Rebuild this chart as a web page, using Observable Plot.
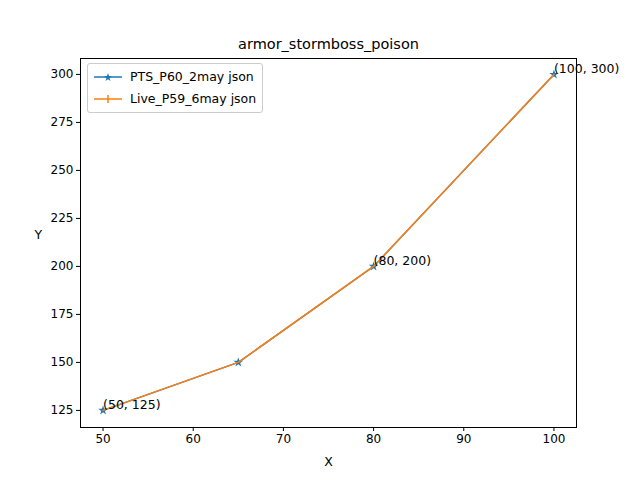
<!DOCTYPE html>
<html><head>
<script src="https://cdn.jsdelivr.net/npm/d3@7"></script>
<script src="https://cdn.jsdelivr.net/npm/@observablehq/plot@0.6"></script>
<style>
body{margin:0;background:#fff;font-family:"DejaVu Sans",sans-serif}
#wrap{position:relative;width:640px;height:480px}
#legend{position:absolute;left:87px;top:63px;border:1px solid #ccc;border-radius:3px;background:rgba(255,255,255,.8);padding:2px 6px;font-size:12.5px;line-height:22px}
.row{display:flex;align-items:center}
.row svg{margin-right:8px}
</style>
</head><body>
<div id="wrap"><div id="chart"></div>
<div id="legend">
<div class="row"><svg width="28" height="10"><line x1="0" y1="5" x2="28" y2="5" stroke="#1f77b4" stroke-width="1.5"/><path d="M14,1 L15,4 L18,4 L15.6,6 L16.5,9 L14,7.2 L11.5,9 L12.4,6 L10,4 L13,4 Z" fill="#1f77b4"/></svg>PTS_P60_2may json</div>
<div class="row"><svg width="28" height="10"><line x1="0" y1="5" x2="28" y2="5" stroke="#ff7f0e" stroke-width="1.5"/><line x1="14" y1="1" x2="14" y2="9" stroke="#ff7f0e" stroke-width="1.5"/></svg>Live_P59_6may json</div>
</div></div>
<script>
const xs = [50, 65, 80, 100];
const pts = [125, 150, 200, 300];
const live = [125, 150, 200, 300];
const labels = ["(50, 125)", "", "(80, 200)", "(100, 300)"];
const xTicks = [50, 60, 70, 80, 90, 100];
const yTicks = [125, 150, 175, 200, 225, 250, 275, 300];

const a = xs.map((x, i) => ({x, y: pts[i], label: labels[i]}));
const b = xs.map((x, i) => ({x, y: live[i]}));

const chart = Plot.plot({
  width: 640, height: 480,
  marginLeft: 80, marginRight: 64, marginTop: 58, marginBottom: 53,
  style: {fontFamily: "DejaVu Sans", fontSize: "12px", color: "#000"},
  x: {domain: [47.5, 102.5], ticks: xTicks, tickSize: 4, label: null},
  y: {domain: [116.1, 308.3], ticks: yTicks, tickSize: 4, label: null},
  marks: [
    Plot.frame({stroke: "#000"}),
    Plot.axisX({ticks: xTicks, tickSize: 4, tickPadding: 3, label: null}),
    Plot.axisY({ticks: yTicks, tickSize: 4, tickPadding: 3, label: null}),
    Plot.line(a, {x: "x", y: "y", stroke: "#1f77b4", strokeWidth: 1.5}),
    Plot.dot(a, {x: "x", y: "y", symbol: "star", fill: "#1f77b4", r: 3}),
    Plot.line(b, {x: "x", y: "y", stroke: "#ff7f0e", strokeWidth: 1.5}),
    Plot.dot(b, {x: "x", y: "y", symbol: "plus", fill: "#ff7f0e", r: 3}),
    Plot.text(a, {x: "x", y: "y", text: "label", textAnchor: "start", dy: -5, fontSize: 12.5, fill: "#000"}),
    Plot.text(["armor_stormboss_poison"], {frameAnchor: "top", dy: -20, fontSize: 14.5, fill: "#000"}),
    Plot.text(["X"], {frameAnchor: "bottom", dy: 38, fontSize: 12.5, fill: "#000"}),
    Plot.text(["Y"], {frameAnchor: "left", dx: -46, dy: -8, fontSize: 12.5, fill: "#000"})
  ]
});
d3.select("#chart").append(() => chart);
</script>
</body></html>
